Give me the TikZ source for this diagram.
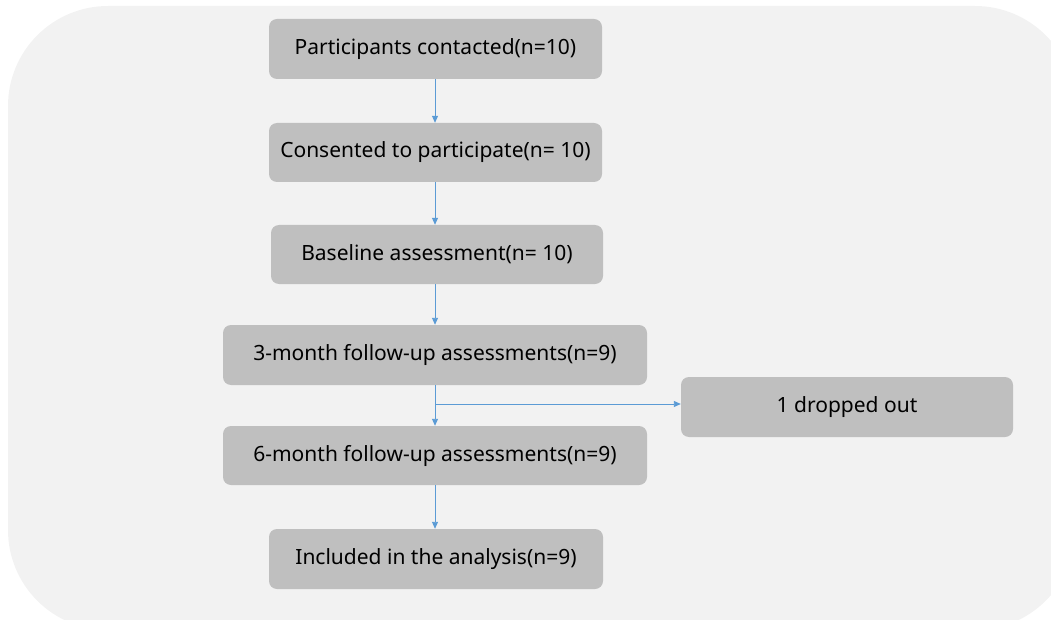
\documentclass[tikz,border=0pt]{standalone}
\usepackage{fontspec}
\setmainfont{Noto Sans}
\usetikzlibrary{arrows.meta}
\definecolor{bgc}{HTML}{F2F2F2}
\definecolor{boxc}{HTML}{BFBFBF}
\definecolor{arr}{HTML}{5B9BD5}
\begin{document}
\begin{tikzpicture}[x=1pt,y=-1pt,
  stepbox/.style={fill=boxc,rounded corners=8pt,font=\fontsize{21}{24}\selectfont,text=black,inner sep=0pt},
  flow/.style={draw=arr,line width=0.9pt,-{Triangle[length=7pt,width=6pt]}}]
\useasboundingbox (0,0) rectangle (1051,620);
\begin{scope}
\clip (0,0) rectangle (1051,620);
\fill[bgc,rounded corners=100pt] (8,6) rectangle (1075,630);
\end{scope}
\node[stepbox,minimum width=333pt,minimum height=60pt] (a) at (435.5,49) {Participants contacted(n=10)};
\node[stepbox,minimum width=333pt,minimum height=59pt] (b) at (435.5,152.5) {Consented to participate(n= 10)};
\node[stepbox,minimum width=332pt,minimum height=59pt] (c) at (437,254.5) {Baseline assessment(n= 10)};
\node[stepbox,minimum width=424pt,minimum height=60pt] (d) at (435,355) {3-month follow-up assessments(n=9)};
\node[stepbox,minimum width=424pt,minimum height=59pt] (e) at (435,455.5) {6-month follow-up assessments(n=9)};
\node[stepbox,minimum width=334pt,minimum height=60pt] (f) at (436,559) {Included in the analysis(n=9)};
\node[stepbox,minimum width=332pt,minimum height=60pt] (g) at (847,407) {1 dropped out};
\draw[flow] (a.south -| 435,0) -- (b.north -| 435,0);
\draw[flow] (b.south -| 435,0) -- (c.north -| 435,0);
\draw[flow] (c.south -| 435,0) -- (d.north -| 435,0);
\draw[flow] (d.south -| 435,0) -- (e.north -| 435,0);
\draw[flow] (e.south -| 435,0) -- (f.north -| 435,0);
\coordinate (br) at (435,404);
\draw[flow] (br) -- (br -| g.west);
\end{tikzpicture}
\end{document}
